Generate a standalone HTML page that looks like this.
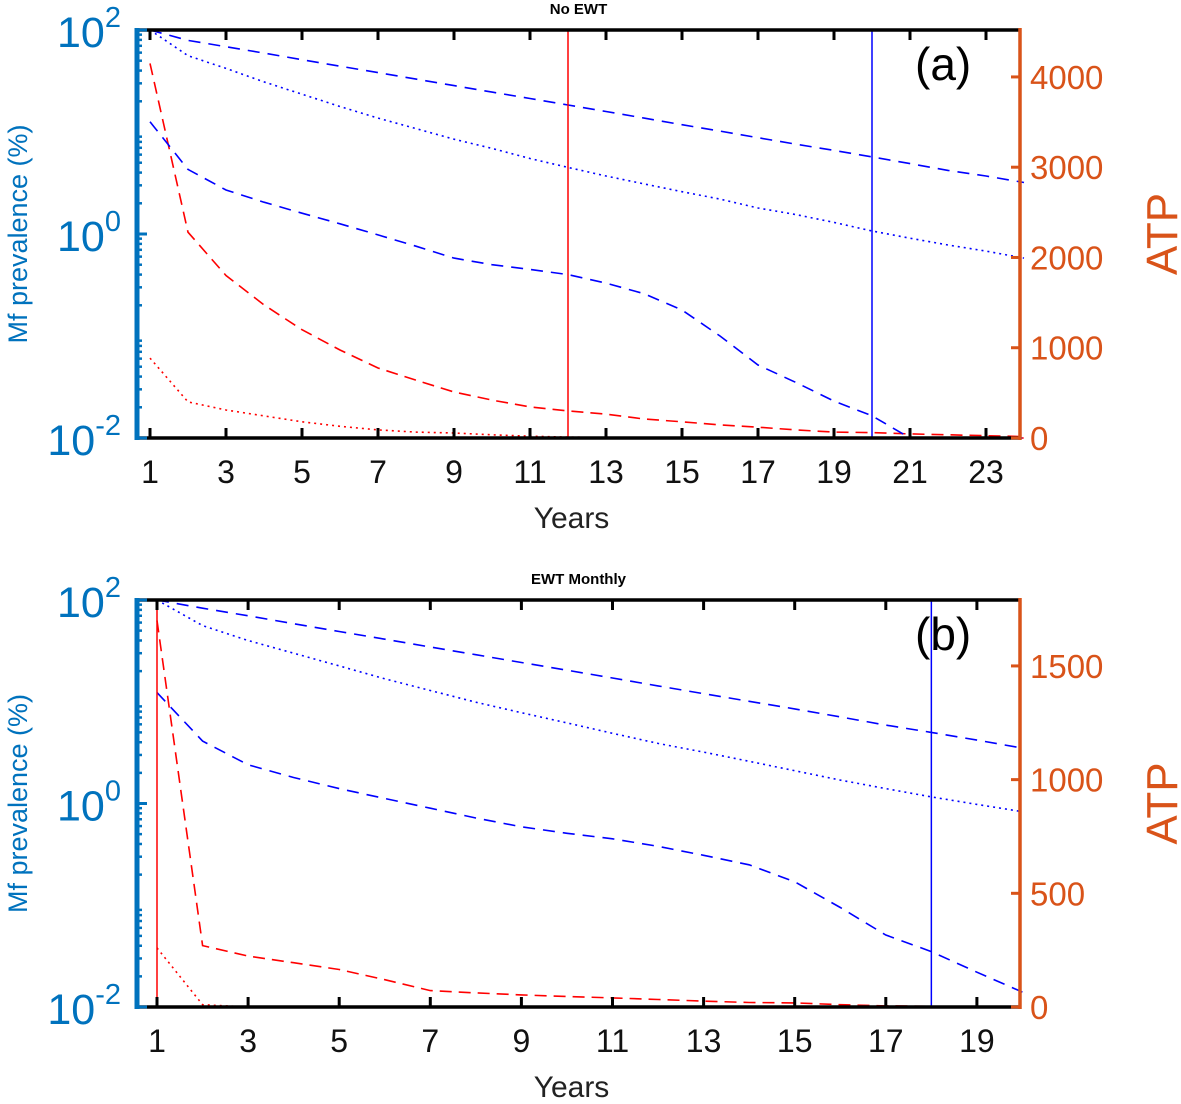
<!DOCTYPE html>
<html><head><meta charset="utf-8">
<style>
html,body{margin:0;padding:0;background:#fff;}
svg{display:block;font-family:"Liberation Sans","DejaVu Sans",sans-serif;}
</style></head>
<body>
<svg id="chart" width="1181" height="1104" viewBox="0 0 1181 1104" xmlns="http://www.w3.org/2000/svg"></svg>
<script>
// ---------- Panel (a) data ----------
const yearsA = [1,2,3,4,5,6,7,8,9,10,11,12,13,14,15,16,17,18,19,20,21,22,23,24];
const mfHighA = [100,79,68.6,59.3,51.2,44.2,38.2,33,28.5,24.6,21.3,18.4,15.9,13.7,11.8,10.2,8.8,7.6,6.6,5.7,4.9,4.2,3.7,3.2];
const mfMidA = [100,56,42,31,23.5,17.8,13.7,10.8,8.5,6.9,5.5,4.5,3.7,3.1,2.6,2.2,1.8,1.55,1.3,1.07,0.91,0.78,0.68,0.58];
const mfLowA = [12.6,4.3,2.7,2.05,1.6,1.26,0.98,0.76,0.58,0.5,0.45,0.4,0.33,0.26,0.18,0.1,0.052,0.035,0.023,0.0165,0.01,0.01,0.01,0.01];
const atpDashA = [4150,2280,1800,1475,1200,975,775,640,510,420,345,300,265,210,180,145,120,90,65,60,45,35,25,15];
const atpDotA = [885,400,310,245,180,130,90,65,55,35,20,10,5,2,0,0,0,0,0,0,0,0,0,0];
const xTicksA = [1,3,5,7,9,11,13,15,17,19,21,23];
const rTicksA = [0,1000,2000,3000,4000];
const vRedA = 12, vBlueA = 20;
// ---------- Panel (b) data ----------
const yearsB = [1,2,3,4,5,6,7,8,9,10,11,12,13,14,15,16,17,18,19,20];
const mfHighB = [100,83,70,58.5,49,41.2,34.5,29,24.3,20.4,17.1,14.3,12,10.1,8.5,7.1,5.9,5,4.2,3.5];
const mfMidB = [100,56,40,30,22.5,16.8,12.9,9.9,7.8,6.2,4.9,3.9,3.2,2.6,2.1,1.7,1.4,1.16,0.98,0.83];
const mfLowB = [12.3,4.1,2.4,1.8,1.4,1.12,0.9,0.72,0.59,0.51,0.45,0.38,0.31,0.25,0.17,0.095,0.051,0.035,0.022,0.014];
const atpDashB = [1700,270,224,195,165,120,72,62,53,46,40,33,26,20,18,10,5,3,2,1];
const atpDotB = [260,10,0,0,0,0,0,0,0,0,0,0,0,0,0,0,0,0,0,0];
const xTicksB = [1,3,5,7,9,11,13,15,17,19];
const rTicksB = [0,500,1000,1500];
const vRedB = 1, vBlueB = 18;
const leftTicks = [-2,0,2];

const NS = "http://www.w3.org/2000/svg";
const svg = document.getElementById('chart');
function mk(tag, attrs, parent, text){
  const e = document.createElementNS(NS, tag);
  for (const k in attrs) e.setAttribute(k, attrs[k]);
  if (text !== undefined) e.textContent = text;
  (parent || svg).appendChild(e);
  return e;
}
const BLUE = '#0000ff', RED = '#ff0000', AXB = '#0072BD', AXO = '#D95319';

function panel(cfg){
  const g = mk('g', {});
  
  
  const L = 137, R = 1020, T = cfg.top, B = cfg.bottom;
  const xs = x => cfg.x0 + (x - 1) * cfg.dx;
  const yl = v => B - (Math.log10(Math.max(v, 0.01)) + 2) / 4 * (B - T);
  const yr = v => B - v / cfg.rmax * (B - T);
  const tt = mk('text', {x: (L+R)/2, y: T-16, 'text-anchor':'middle', 'font-size':15, 'font-weight':'bold', fill:'#000'}, g, cfg.title);
  
  
  function line(vals, years, scale, color, dash, nm){
    const d = years.map((x,i)=> (i?'L':'M') + xs(x).toFixed(1) + ' ' + scale(vals[i]).toFixed(1)).join(' ');
    const p = mk('path', {d, fill:'none', stroke:color, 'stroke-width':1.6, 'stroke-dasharray':dash}, g);
    
    
  }
  line(cfg.atpDash, cfg.years, yr, RED, '12 7', 'atp-dashed-line');
  line(cfg.atpDot, cfg.years, yr, RED, '2 4', 'atp-dotted-line');
  line(cfg.mfHigh, cfg.years, yl, BLUE, '12 8', 'mf-high-dashed-line');
  line(cfg.mfMid, cfg.years, yl, BLUE, '2 4', 'mf-mid-dotted-line');
  line(cfg.mfLow, cfg.years, yl, BLUE, '12 8', 'mf-low-dashed-line');
  const vr = mk('line', {x1:xs(cfg.vRed), x2:xs(cfg.vRed), y1:T, y2:B, stroke:RED, 'stroke-width':1.5}, g);
  
  
  const vb = mk('line', {x1:xs(cfg.vBlue), x2:xs(cfg.vBlue), y1:T, y2:B, stroke:BLUE, 'stroke-width':1.5}, g);
  
  
  mk('line', {x1:L, x2:R, y1:T, y2:T, stroke:'#000', 'stroke-width':3.5}, g);
  mk('line', {x1:L, x2:R, y1:B, y2:B, stroke:'#000', 'stroke-width':3.5}, g);
  cfg.xTicks.forEach(t => {
    mk('line', {x1:xs(t), x2:xs(t), y1:T, y2:T+10, stroke:'#000', 'stroke-width':3}, g);
    mk('line', {x1:xs(t), x2:xs(t), y1:B, y2:B-10, stroke:'#000', 'stroke-width':3}, g);
    const lb = mk('text', {x:xs(t), y:B+45, 'text-anchor':'middle', 'font-size':32, fill:'#111'}, g, String(t));
    
    
  });
  const xt = mk('text', {x:(L+R)/2 - 7, y:B+90, 'text-anchor':'middle', 'font-size':30, fill:'#222'}, g, 'Years');
  
  
  mk('line', {x1:L, x2:L, y1:T-2, y2:B+2, stroke:AXB, 'stroke-width':5}, g);
  for (let d=-2; d<2; d++) for (let m=2; m<10; m++){
    const y = yl(m*Math.pow(10,d));
    mk('line', {x1:L, x2:L+5, y1:y, y2:y, stroke:AXB, 'stroke-width':2.5}, g);
  }
  leftTicks.forEach(e => {
    const y = yl(Math.pow(10,e));
    mk('line', {x1:L, x2:L+10, y1:y, y2:y, stroke:AXB, 'stroke-width':3}, g);
    const tx = mk('text', {x:L-16, y:y+17, 'text-anchor':'end', 'font-size':43, fill:AXB}, g);
    
    
    mk('tspan', {}, tx, '10');
    mk('tspan', {'font-size':29, dy:-20}, tx, String(e));
  });
  const yt = mk('text', {x:0, y:0, transform:`translate(27 ${(T+B)/2}) rotate(-90)`, 'text-anchor':'middle', 'font-size':27, fill:AXB}, g, 'Mf prevalence (%)');
  
  
  mk('line', {x1:R, x2:R, y1:T-2, y2:B+2, stroke:AXO, 'stroke-width':3.5}, g);
  cfg.rTicks.forEach(v => {
    const y = yr(v);
    mk('line', {x1:R-9, x2:R, y1:y, y2:y, stroke:AXO, 'stroke-width':3}, g);
    const tx = mk('text', {x:R+10, y:y+12, 'font-size':33, fill:AXO}, g, String(v));
    
    
  });
  const rt = mk('text', {x:0, y:0, transform:`translate(1177 ${(T+B)/2}) rotate(-90)`, 'text-anchor':'middle', 'font-size':44, fill:AXO}, g, 'ATP');
  
  
  const pl = mk('text', {x:cfg.labelX, y:T+50, 'font-size':46, fill:'#000'}, g, cfg.label);
  
  
}

panel({name:'panel-a-no-ewt', title:'No EWT', label:'(a)', labelX:915, top:30, bottom:438,
  x0:150, dx:38, rmax:4520, years:yearsA, mfHigh:mfHighA, mfMid:mfMidA, mfLow:mfLowA,
  atpDash:atpDashA, atpDot:atpDotA, xTicks:xTicksA, rTicks:rTicksA, vRed:vRedA, vBlue:vBlueA});
panel({name:'panel-b-ewt-monthly', title:'EWT Monthly', label:'(b)', labelX:915, top:600, bottom:1007,
  x0:157, dx:45.55, rmax:1790, years:yearsB, mfHigh:mfHighB, mfMid:mfMidB, mfLow:mfLowB,
  atpDash:atpDashB, atpDot:atpDotB, xTicks:xTicksB, rTicks:rTicksB, vRed:vRedB, vBlue:vBlueB});
</script>
</body></html>
